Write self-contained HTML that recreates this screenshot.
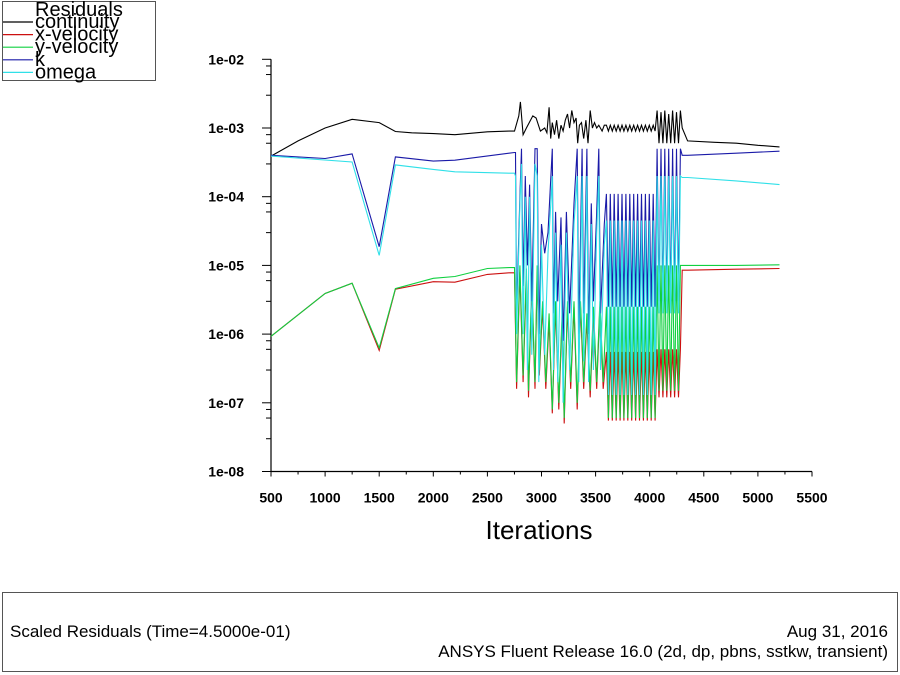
<!DOCTYPE html>
<html><head><meta charset="utf-8"><style>
html,body{margin:0;padding:0;background:#fff;}
svg{display:block;font-family:"Liberation Sans",Arial,sans-serif;}
</style></head><body>
<svg id="chart" width="900" height="675" viewBox="0 0 900 675">
<rect x="0" y="0" width="900" height="675" fill="#fff"/>
<g id="legend">
<rect x="2.5" y="1.5" width="153" height="79" fill="#fff" stroke="#555"/>
<text x="35" y="16" font-size="20">Residuals</text>
</g>
<g id="axes"></g>
<g id="series"></g>
<text x="539" y="539" font-size="26" text-anchor="middle">Iterations</text>
<g>
<rect x="2.5" y="592.5" width="895" height="79" fill="#fff" stroke="#555"/>
<text x="10" y="637" font-size="17">Scaled Residuals  (Time=4.5000e-01)</text>
<text x="888" y="637" font-size="17" text-anchor="end">Aug 31, 2016</text>
<text x="888" y="657" font-size="17" text-anchor="end">ANSYS Fluent Release 16.0 (2d, dp, pbns, sstkw, transient)</text>
</g>
</svg>
<script>
const xTicks = [500,1000,1500,2000,2500,3000,3500,4000,4500,5000,5500];
const yTickExps = [-2,-3,-4,-5,-6,-7,-8];
const yTickLabels = ["1e-02","1e-03","1e-04","1e-05","1e-06","1e-07","1e-08"];
const legendNames = ["continuity","x-velocity","y-velocity","k","omega"];

const contPts = [[500,3.9e-4],[750,6.5e-4],[1000,1.0e-3],[1250,1.34e-3],[1500,1.2e-3],[1650,8.9e-4],[1800,8.5e-4],[2000,8.3e-4],[2200,8e-4],[2500,8.8e-4],[2700,9e-4],[2750,9e-4],[2790,1.5e-3],[2805,2.4e-3],[2830,8e-4],[2860,1e-3],[2920,1.5e-3],[2950,1.4e-3],[2990,9e-4],[3030,1e-3],[3050,8.5e-4],[3070,2e-3],[3085,7e-4],[3100,1.2e-3],[3120,8e-4],[3140,1.3e-3],[3160,7e-4],[3180,1.1e-3],[3200,9e-4],[3220,1.3e-3],[3240,1.6e-3],[3260,1e-3],[3280,1.8e-3],[3300,1.2e-3],[3320,1.4e-3],[3335,6e-4],[3350,1.1e-3],[3370,1.2e-3],[3390,7e-4],[3410,1.3e-3],[3430,6e-4],[3450,1.8e-3],[3470,1e-3],[3490,1.2e-3],[3510,1e-3],[3530,1.1e-3],[3560,9e-4],[3580,1.1e-3]];
const kPts = [[500,4e-4],[1000,3.6e-4],[1250,4.2e-4],[1500,1.87e-5],[1650,3.8e-4],[2000,3.3e-4],[2200,3.4e-4],[2700,4.3e-4],[2750,4.4e-4],[2760,4.4e-4],[2770,2e-6],[2800,1e-4],[2815,5e-4],[2830,5e-6],[2850,2e-4],[2870,1e-5],[2890,1.5e-4],[2910,3e-6],[2940,5e-4],[2960,5e-4],[2975,1e-6],[3000,4e-5],[3030,1.5e-5],[3060,3e-5],[3100,5e-4],[3110,2e-6],[3130,6e-5],[3150,3e-6],[3180,5e-5],[3200,8e-7],[3230,6e-5],[3260,2e-6],[3300,8e-5],[3330,5e-4],[3345,1e-6],[3375,5e-4],[3390,2e-6],[3420,5e-4],[3435,1e-6],[3460,8e-5],[3480,3e-6],[3510,6e-5],[3530,5e-4],[3545,2e-6],[3580,4e-5]];
const omegaPts = [[500,3.9e-4],[1250,3.2e-4],[1500,1.4e-5],[1650,2.9e-4],[2000,2.5e-4],[2200,2.3e-4],[2700,2.2e-4],[2750,2.2e-4],[2760,2e-4],[2770,1e-6],[2800,8e-5],[2815,3e-4],[2830,1e-6],[2850,1e-4],[2870,3e-7],[2890,1e-4],[2910,5e-7],[2940,3e-4],[2960,2e-4],[2975,2e-7],[3000,2e-5],[3030,5e-7],[3060,1.5e-5],[3100,2e-4],[3110,3e-7],[3130,3e-5],[3150,2e-7],[3180,2e-5],[3200,1e-7],[3230,3e-5],[3260,3e-7],[3300,4e-5],[3330,2e-4],[3345,2e-7],[3375,2e-4],[3390,4e-7],[3420,2e-4],[3435,2e-7],[3460,4e-5],[3480,3e-7],[3510,3e-5],[3530,2e-4],[3545,3e-7],[3580,2e-5]];
const yvelPts = [[500,9.3e-7],[1000,3.9e-6],[1250,5.5e-6],[1500,6.3e-7],[1650,4.6e-6],[2000,6.5e-6],[2200,6.9e-6],[2500,9e-6],[2700,9.3e-6],[2750,9.3e-6],[2770,2e-7],[2800,1e-5],[2830,2.5e-7],[2860,9e-6],[2880,1.5e-7],[2910,6e-6],[2940,2e-7],[2960,1e-5],[2980,3e-7],[3010,3e-6],[3040,2e-7],[3070,2e-6],[3100,8e-8],[3130,3e-6],[3160,1e-7],[3190,2e-6],[3210,6e-8],[3240,3e-6],[3270,2e-7],[3300,3e-6],[3330,1e-7],[3360,3e-6],[3390,2e-7],[3420,2e-6],[3450,1.5e-7],[3480,2.5e-6],[3510,2e-7],[3540,3e-6],[3570,2e-7]];
const xvelPts = [[500,9.3e-7],[1000,3.9e-6],[1250,5.5e-6],[1500,5.8e-7],[1650,4.5e-6],[2000,5.8e-6],[2200,5.7e-6],[2500,7.4e-6],[2700,7.8e-6],[2750,7.8e-6],[2770,1.6e-7],[2800,8e-6],[2830,2e-7],[2860,7e-6],[2880,1.2e-7],[2910,5e-6],[2940,1.6e-7],[2960,8e-6],[2980,2.5e-7],[3010,2.5e-6],[3040,1.6e-7],[3070,1.6e-6],[3100,7e-8],[3130,2.5e-6],[3160,8e-8],[3190,1.6e-6],[3210,5e-8],[3240,2.5e-6],[3270,1.6e-7],[3300,2.5e-6],[3330,8e-8],[3360,2.5e-6],[3390,1.6e-7],[3420,1.6e-6],[3450,1.2e-7],[3480,2e-6],[3510,1.6e-7],[3540,2.5e-6],[3570,1.6e-7]];

const oscIters = [3600,3618,3636,3654,3672,3690,3708,3726,3744,3762,3780,3798,3816,3834,3852,3870,3888,3906,3924,3942,3960,3978,3996,4014,4032,4050,4068,4086,4104,4122,4140,4158,4176,4194,4212,4230,4248,4266,4284,4300];
const contOsc = [1.1e-3,9e-4,1.1e-3,9e-4,1.1e-3,9e-4,1.1e-3,9e-4,1.1e-3,9e-4,1.1e-3,9e-4,1.1e-3,9e-4,1.1e-3,9e-4,1.1e-3,9e-4,1.1e-3,9e-4,1.1e-3,9e-4,1.1e-3,9e-4,1.1e-3,9e-4,1.8e-3,6e-4,1.7e-3,6e-4,1.8e-3,6e-4,1.6e-3,6e-4,1.8e-3,6e-4,1.7e-3,6e-4,1.8e-3,1e-3];
const kOsc = [1.1e-4,2.5e-6,1.1e-4,2.5e-6,1.1e-4,2.5e-6,1.1e-4,2.5e-6,1.1e-4,2.5e-6,1.1e-4,2.5e-6,1.1e-4,2.5e-6,1.1e-4,2.5e-6,1.1e-4,2.5e-6,1.1e-4,2.5e-6,1.1e-4,2.5e-6,1.1e-4,2.5e-6,1.1e-4,2.5e-6,5e-4,3e-6,5e-4,3e-6,5e-4,3e-6,5e-4,3e-6,5e-4,3e-6,5e-4,3e-6,5e-4,4e-4];
const omegaOsc = [4.5e-5,1.3e-7,4.5e-5,1.3e-7,4.5e-5,1.3e-7,4.5e-5,1.3e-7,4.5e-5,1.3e-7,4.5e-5,1.3e-7,4.5e-5,1.3e-7,4.5e-5,1.3e-7,4.5e-5,1.3e-7,4.5e-5,1.3e-7,4.5e-5,1.3e-7,4.5e-5,1.3e-7,4.5e-5,1.3e-7,2e-4,2e-6,2e-4,2e-6,2e-4,2e-6,2e-4,2e-6,2e-4,2e-6,2e-4,2e-6,2e-4,1.9e-4];
const yvelOsc = [2.5e-6,6e-8,2.5e-6,6e-8,2.5e-6,6e-8,2.5e-6,6e-8,2.5e-6,6e-8,2.5e-6,6e-8,2.5e-6,6e-8,2.5e-6,6e-8,2.5e-6,6e-8,2.5e-6,6e-8,2.5e-6,6e-8,2.5e-6,6e-8,2.5e-6,6e-8,1e-5,1.5e-7,1e-5,1.5e-7,1e-5,1.5e-7,1e-5,1.5e-7,1e-5,1.5e-7,1e-5,1.5e-7,1e-5,1e-5];
const xvelOsc = [5.5e-7,5.5e-8,5.5e-7,5.5e-8,5.5e-7,5.5e-8,5.5e-7,5.5e-8,5.5e-7,5.5e-8,5.5e-7,5.5e-8,5.5e-7,5.5e-8,5.5e-7,5.5e-8,5.5e-7,5.5e-8,5.5e-7,5.5e-8,5.5e-7,5.5e-8,5.5e-7,5.5e-8,5.5e-7,5.5e-8,6e-7,1.2e-7,6e-7,1.2e-7,6e-7,1.2e-7,6e-7,1.2e-7,6e-7,1.2e-7,6e-7,1.2e-7,6e-7,8.5e-6];

const contTail = [[4350,6.5e-4],[4600,6.2e-4],[4800,6e-4],[5000,5.6e-4],[5200,5.3e-4]];
const kTail = [[4350,4e-4],[4800,4.3e-4],[5200,4.6e-4]];
const omegaTail = [[4350,1.9e-4],[4800,1.7e-4],[5200,1.5e-4]];
const yvelTail = [[4350,1e-5],[4800,1e-5],[5200,1.02e-5]];
const xvelTail = [[4350,8.5e-6],[4800,8.8e-6],[5200,9e-6]];

const X0=271, X1=812, XMIN=500, XMAX=5500;
const YTOP=59.3, DEC=68.7;
function xs(it){return X0+(it-XMIN)*(X1-X0)/(XMAX-XMIN);}
function ys(v){return YTOP+(-2-Math.log10(v))*DEC;}
const NS="http://www.w3.org/2000/svg";
function mk(tag,attrs,parent){const e=document.createElementNS(NS,tag);for(const k in attrs)e.setAttribute(k,attrs[k]);parent.appendChild(e);return e;}

const axes=document.getElementById('axes');
let l;
l=mk('line',{x1:X0,y1:YTOP,x2:X0,y2:ys(1e-8),stroke:'#000','stroke-width':1.2},axes);


l=mk('line',{x1:X0,y1:ys(1e-8),x2:X1,y2:ys(1e-8),stroke:'#000','stroke-width':1.2},axes);


yTickExps.forEach((e,i)=>{
  const y=ys(Math.pow(10,e));
  const t=mk('line',{x1:X0-9,y1:y,x2:X0,y2:y,stroke:'#000'},axes);
  
  
  const tx=mk('text',{x:X0-27,y:y+5,'font-size':14,'font-weight':'bold','text-anchor':'end'},axes);
  tx.textContent=yTickLabels[i];
  
  
  if(e>-8){[8,6,3].forEach(m=>{
    const yy=ys(m*Math.pow(10,e-1));
    const mt=mk('line',{x1:X0-5,y1:yy,x2:X0,y2:yy,stroke:'#000'},axes);
    
    
  });}
});
xTicks.forEach((v,i)=>{
  const x=xs(v);
  const t=mk('line',{x1:x,y1:ys(1e-8),x2:x,y2:ys(1e-8)+5,stroke:'#000'},axes);
  
  
  const tx=mk('text',{x:x,y:ys(1e-8)+31,'font-size':14,'font-weight':'bold','text-anchor':'middle'},axes);
  tx.textContent=String(v);
  
  
  if(i<xTicks.length-1){
    const mx=xs(v+250);
    const mt=mk('line',{x1:mx,y1:ys(1e-8),x2:mx,y2:ys(1e-8)+3,stroke:'#000'},axes);
    
    
  }
});

const ser=document.getElementById('series');
function build(pts,osc,tail){
  const all=pts.slice();
  oscIters.forEach((it,i)=>all.push([it,osc[i]]));
  return all.concat(tail);
}
const seriesDefs=[
  {name:'continuity',color:'#000000',pts:build(contPts,contOsc,contTail)},
  {name:'x-velocity',color:'#cc1010',pts:build(xvelPts,xvelOsc,xvelTail)},
  {name:'y-velocity',color:'#10d040',pts:build(yvelPts,yvelOsc,yvelTail)},
  {name:'k',color:'#1a1aa8',pts:build(kPts,kOsc,kTail)},
  {name:'omega',color:'#30e0e8',pts:build(omegaPts,omegaOsc,omegaTail)}
];
[0,1,2,3,4].forEach(i=>{
  const s=seriesDefs[i];
  const p=mk('polyline',{points:s.pts.map(q=>xs(q[0]).toFixed(1)+','+ys(q[1]).toFixed(1)).join(' '),fill:'none',stroke:s.color,'stroke-width':1.1},ser);
  
  
});

const leg=document.getElementById('legend');
legendNames.forEach((n,i)=>{
  const y=22+i*12.6;
  const ln=mk('line',{x1:3,y1:y,x2:33,y2:y,stroke:seriesDefs[i].color,'stroke-width':1.2},leg);
  
  
  const t=mk('text',{x:35,y:y+6,'font-size':20},leg);
  t.textContent=n;
  
  
});
</script>
</body></html>
